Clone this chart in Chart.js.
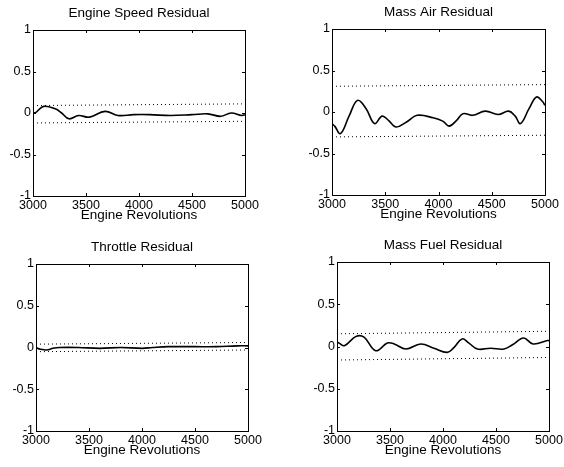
<!DOCTYPE html>
<html>
<head>
<meta charset="utf-8">
<script src="https://cdn.jsdelivr.net/npm/chart.js@4/dist/chart.umd.min.js"></script>
<style>
  html, body { margin: 0; padding: 0; background: #fff; overflow: hidden; }
  body { width: 564px; height: 467px; position: relative; }
  .panel { position: absolute; }
</style>
</head>
<body>
<div class="panel" id="p0"><canvas id="c0"></canvas></div>
<div class="panel" id="p1"><canvas id="c1"></canvas></div>
<div class="panel" id="p2"><canvas id="c2"></canvas></div>
<div class="panel" id="p3"><canvas id="c3"></canvas></div>
<script>
// x axis ticks (engine revolutions) and y ticks shared by all panels
const rpmTicks = [3000, 3500, 4000, 4500, 5000];
const residualTicks = [-1, -0.5, 0, 0.5, 1];

// Engine Speed Residual
const speedRpm = [3000, 3020, 3100, 3210, 3270, 3340, 3430, 3530, 3680, 3800, 3950, 4100, 4300, 4500, 4650, 4770, 4870, 4970, 5000];
const speedRes = [0.01, 0.0, 0.08, 0.05, 0.0, -0.07, -0.03, -0.05, 0.02, -0.03, -0.02, -0.02, -0.03, -0.02, -0.01, -0.04, 0.0, -0.03, -0.02];
const speedLimit = [0.09, 0.11];
const speedLimitLow = [-0.12, -0.1];

// Mass Air Residual
const airRpm = [3000, 3025, 3080, 3160, 3240, 3320, 3400, 3470, 3530, 3600, 3700, 3800, 3950, 4040, 4100, 4170, 4230, 4320, 4440, 4560, 4660, 4720, 4770, 4850, 4920, 4975, 5000];
const airRes = [-0.14, -0.17, -0.26, -0.05, 0.14, 0.04, -0.14, -0.05, -0.1, -0.18, -0.12, -0.04, -0.07, -0.11, -0.17, -0.1, -0.02, -0.04, 0.01, -0.03, 0.01, -0.05, -0.14, 0.04, 0.18, 0.13, 0.08];
const airLimit = [0.31, 0.33];
const airLimitLow = [-0.3, -0.28];

// Throttle Residual
const throttleRpm = [3000, 3040, 3100, 3160, 3220, 3400, 3600, 3800, 4000, 4100, 4250, 4500, 4700, 4900, 5000];
const throttleRes = [0.0, -0.02, -0.03, -0.01, 0.0, 0.0, -0.01, 0.0, -0.01, 0.0, 0.01, 0.01, 0.01, 0.02, 0.02];
const throttleLimit = [0.04, 0.06];
const throttleLimitLow = [-0.05, -0.03];

// Mass Fuel Residual
const fuelRpm = [3000, 3020, 3070, 3180, 3255, 3365, 3475, 3540, 3650, 3790, 3915, 4040, 4105, 4180, 4245, 4325, 4450, 4575, 4655, 4760, 4850, 4985, 5000];
const fuelRes = [0.05, 0.04, 0.01, 0.12, 0.11, -0.05, 0.04, 0.03, -0.03, 0.03, -0.02, -0.07, -0.01, 0.09, 0.04, -0.03, -0.02, -0.03, 0.02, 0.1, 0.03, 0.07, 0.07];
const fuelLimit = [0.15, 0.18];
const fuelLimitLow = [-0.16, -0.13];

const titles = ['Engine Speed Residual', 'Mass Air Residual', 'Throttle Residual', 'Mass Fuel Residual'];
const xTitle = 'Engine Revolutions';

// plot box of each panel on the page: left, top, right, bottom
const boxes = [
  [33, 30, 245, 196],
  [332, 29, 545, 195],
  [36, 264, 248, 431],
  [337, 262, 549, 431]
];
// an empty right axis as wide as the left one keeps the title centred over the box
const Y_AXIS_W = 33, TITLE_H = 30, X_AXIS_H = 37;

const FONT = "'Liberation Sans', Arial, Helvetica, sans-serif";

// MATLAB style box with ticks pointing inward
const boxPlugin = {
  id: 'box',
  afterDraw(chart) {
    const { ctx, chartArea: a, scales: { x, y } } = chart;
    ctx.save();
    ctx.strokeStyle = '#000';
    ctx.lineWidth = 1;
    ctx.strokeRect(Math.round(a.left) + 0.5, Math.round(a.top) + 0.5, Math.round(a.width), Math.round(a.height));
    ctx.beginPath();
    x.ticks.forEach(t => {
      const px = Math.round(x.getPixelForValue(t.value)) + 0.5;
      ctx.moveTo(px, a.bottom); ctx.lineTo(px, a.bottom - 3);
      ctx.moveTo(px, a.top); ctx.lineTo(px, a.top + 3);
    });
    y.ticks.forEach(t => {
      const py = Math.round(y.getPixelForValue(t.value)) + 0.5;
      ctx.moveTo(a.left, py); ctx.lineTo(a.left + 3, py);
      ctx.moveTo(a.right, py); ctx.lineTo(a.right - 3, py);
    });
    ctx.stroke();
    ctx.restore();
  }
};

function toPoints(xs, ys) {
  return xs.map((v, i) => ({ x: v, y: ys[i] }));
}

function limitLine(vals) {
  return {
    data: [{ x: rpmTicks[0], y: vals[0] }, { x: rpmTicks[rpmTicks.length - 1], y: vals[1] }],
    borderColor: '#000',
    borderWidth: 1,
    borderDash: [1, 3],
    pointRadius: 0,
    tension: 0
  };
}

function makePanel(i, xs, ys, hi, lo) {
  const [l, t, r, b] = boxes[i];
  const panel = document.getElementById('p' + i);
  const left = l - Y_AXIS_W, top = t - TITLE_H;
  const w = r - left + Y_AXIS_W, h = b - top + X_AXIS_H;
  panel.style.left = left + 'px';
  panel.style.top = top + 'px';
  panel.style.width = w + 'px';
  panel.style.height = h + 'px';

  new Chart(document.getElementById('c' + i), {
    type: 'line',
    data: {
      datasets: [
        {
          data: toPoints(xs, ys),
          borderColor: '#000',
          borderWidth: 1.6,
          pointRadius: 0,
          tension: 0.4
        },
        limitLine(hi),
        limitLine(lo)
      ]
    },
    options: {
      responsive: true,
      maintainAspectRatio: false,
      animation: false,
      events: [],
      layout: { padding: 0 },
      plugins: {
        legend: { display: false },
        tooltip: { enabled: false },
        title: {
          display: true,
          text: titles[i],
          color: '#000',
          font: { family: FONT, size: 13.5, weight: 'normal' },
          padding: { top: 5, bottom: 8.8 }
        }
      },
      scales: {
        x: {
          type: 'linear',
          min: 3000, max: 5000,
          afterBuildTicks: s => { s.ticks = rpmTicks.map(v => ({ value: v })); },
          afterFit: s => { s.height = X_AXIS_H; },
          grid: { display: false, drawTicks: false },
          border: { display: false },
          ticks: {
            color: '#000',
            padding: 2,
            maxRotation: 0,
            autoSkip: false,
            font: { family: FONT, size: 12.5 },
            callback: v => String(v)
          },
          title: {
            display: true,
            text: xTitle,
            color: '#000',
            font: { family: FONT, size: 13.5 },
            padding: { top: 0, bottom: 9.9 }
          }
        },
        y: {
          type: 'linear',
          min: -1, max: 1,
          afterBuildTicks: s => { s.ticks = residualTicks.map(v => ({ value: v })); },
          afterFit: s => { s.width = Y_AXIS_W; },
          grid: { display: false, drawTicks: false },
          border: { display: false },
          ticks: {
            color: '#000',
            padding: 2,
            font: { family: FONT, size: 12.5 },
            callback: v => String(v)
          }
        },
        yRight: {
          type: 'linear',
          position: 'right',
          min: -1, max: 1,
          afterFit: s => { s.width = Y_AXIS_W; },
          grid: { display: false, drawTicks: false },
          border: { display: false },
          ticks: { display: false }
        }
      }
    },
    plugins: [boxPlugin]
  });
}

makePanel(0, speedRpm, speedRes, speedLimit, speedLimitLow);
makePanel(1, airRpm, airRes, airLimit, airLimitLow);
makePanel(2, throttleRpm, throttleRes, throttleLimit, throttleLimitLow);
makePanel(3, fuelRpm, fuelRes, fuelLimit, fuelLimitLow);
</script>
</body>
</html>
